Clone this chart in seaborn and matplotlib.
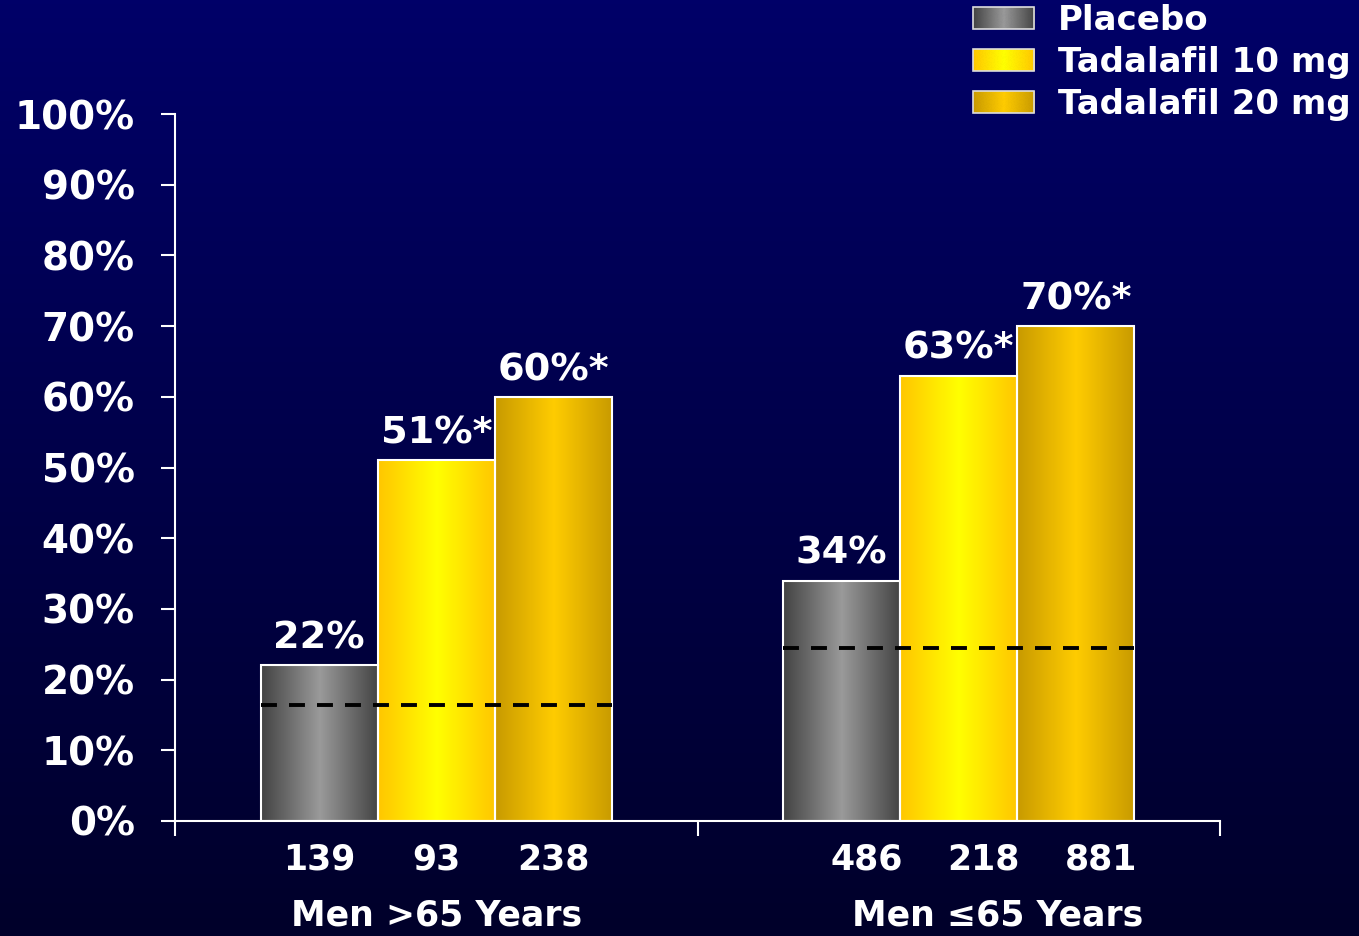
import numpy as np
import pandas as pd
import matplotlib
matplotlib.use("Agg")
import matplotlib.pyplot as plt
import seaborn as sns
from matplotlib.colors import LinearSegmentedColormap
from matplotlib.legend_handler import HandlerBase
from matplotlib.image import BboxImage
from matplotlib.transforms import Bbox, TransformedBbox
from matplotlib.patches import Rectangle

# ---------------- data ----------------
groups = ["Men >65 Years", "Men \u226465 Years"]
treatments = ["Placebo", "Tadalafil 10 mg", "Tadalafil 20 mg"]
values_gt65 = [22, 51, 60]
values_le65 = [34, 63, 70]
n_gt65 = [139, 93, 238]
n_le65 = [486, 218, 881]
significant = [False, True, True]
reference_levels = [16.4, 24.5]
yticks = list(range(0, 101, 10))

# ---------------- style ----------------
sns.set_theme(style="white")
plt.rcParams["font.family"] = ["DejaVu Sans"]
plt.rcParams["font.weight"] = "bold"

grad_stops = [
    ["#434343", "#9a9a9a", "#434343"],
    ["#ffc600", "#ffff00", "#ffc600"],
    ["#c89a00", "#ffcc00", "#c89a00"],
]
cmaps = [LinearSegmentedColormap.from_list(f"g{i}", s) for i, s in enumerate(grad_stops)]
mid_colors = [s[1] for s in grad_stops]

fig = plt.figure(figsize=(13.59, 9.36), dpi=100)

# background gradient
bg = fig.add_axes([0, 0, 1, 1], zorder=-10)
bg.imshow(np.linspace(0, 1, 256)[:, None], aspect="auto", extent=[0, 1, 0, 1],
          cmap=LinearSegmentedColormap.from_list("bg", ["#000068", "#00002a"]))
bg.axis("off")

W, H = 1359, 936
ax = fig.add_axes([175 / W, 1 - 821 / H, (1220 - 175) / W, (821 - 114) / H])
ax.patch.set_alpha(0)

df = pd.DataFrame({
    "group": np.repeat(groups, len(treatments)),
    "treatment": treatments * len(groups),
    "value": values_gt65 + values_le65,
})

sns.barplot(data=df, x="group", y="value", hue="treatment", order=groups,
            hue_order=treatments, palette=mid_colors, saturation=1, width=0.672,
            edgecolor="white", linewidth=1.5, ax=ax, legend=False)
ax.set_xlim(-0.5, 1.5)
ax.set_ylim(0, 100)

grad_row = np.linspace(0, 1, 256)[None, :]
for ci, cont in enumerate(ax.containers):
    for bar in cont:
        x, w, h = bar.get_x(), bar.get_width(), bar.get_height()
        im = ax.imshow(grad_row, cmap=cmaps[ci], extent=[x, x + w, 0, h],
                       aspect="auto", zorder=1.5, interpolation="bicubic")
        im.set_clip_path(bar)
        bar.set_facecolor("none")
        bar.set_zorder(2)
ax.set_xlim(-0.5, 1.5)
ax.set_ylim(0, 100)
ax.set_aspect("auto")

# value labels
all_vals = [values_gt65, values_le65]
for ci, cont in enumerate(ax.containers):
    for gi, bar in enumerate(cont):
        v = all_vals[gi][ci]
        txt = f"{v}%" + ("*" if significant[ci] else "")
        ax.annotate(txt, (bar.get_x() + bar.get_width() / 2, bar.get_height()),
                    xytext=(0, 12), textcoords="offset points", ha="center",
                    va="baseline", color="white", fontsize=27.5, fontweight="bold")

# n labels
all_n = [n_gt65, n_le65]
n_shift = [0, 18]
for ci, cont in enumerate(ax.containers):
    for gi, bar in enumerate(cont):
        ax.annotate(str(all_n[gi][ci]), (bar.get_x() + bar.get_width() / 2, 0),
                    xycoords=("data", "axes fraction"),
                    xytext=(n_shift[gi], -35), textcoords="offset points",
                    ha="center", va="baseline", color="white", fontsize=25,
                    fontweight="bold", annotation_clip=False)

# group labels
g_shift = [0, 28]
for gi, g in enumerate(groups):
    ax.annotate(g, (gi, 0), xycoords=("data", "axes fraction"),
                xytext=(g_shift[gi], -75), textcoords="offset points",
                ha="center", va="baseline", color="white", fontsize=25,
                fontweight="bold", annotation_clip=False)

# dashed reference lines
for gi, lvl in enumerate(reference_levels):
    bars = [cont[gi] for cont in ax.containers]
    x0 = bars[0].get_x()
    x1 = bars[-1].get_x() + bars[-1].get_width()
    ax.hlines(lvl, x0, x1, colors="black", linewidth=2.8,
              linestyles=(0, (4.1, 3.1)), zorder=4)

# axes styling
sns.despine(ax=ax)
for sp in ["left", "bottom"]:
    ax.spines[sp].set_color("white")
    ax.spines[sp].set_linewidth(1.5)
ax.set_yticks(yticks)
ax.set_yticklabels([f"{t}%" for t in yticks])
ax.set_xticks([-0.5, 0.5, 1.5])
ax.set_xticklabels([])
ax.tick_params(axis="y", left=True, colors="white", labelsize=28, length=10,
               width=1.5, pad=19, direction="out")
ax.tick_params(axis="x", bottom=True, colors="white", length=11, width=1.5,
               direction="out")
for lab in ax.get_yticklabels():
    lab.set_fontweight("bold")
ax.set_xlabel("")
ax.set_ylabel("")


# legend with gradient swatches
class GradientHandler(HandlerBase):
    def __init__(self, cmap):
        super().__init__()
        self.cmap = cmap

    def create_artists(self, legend, orig_handle, xdescent, ydescent, width,
                       height, fontsize, trans):
        bb = Bbox.from_bounds(-xdescent, -ydescent, width, height)
        img = BboxImage(TransformedBbox(bb, trans), cmap=self.cmap,
                        interpolation="bicubic")
        img.set_data(np.linspace(0, 1, 256)[None, :])
        rect = Rectangle((-xdescent, -ydescent), width, height,
                         facecolor="none", edgecolor="#dddddd", linewidth=1.2,
                         transform=trans)
        return [img, rect]


proxies = [Rectangle((0, 0), 1, 1) for _ in treatments]
hmap = {p: GradientHandler(cm) for p, cm in zip(proxies, cmaps)}
fig.legend(handles=proxies, labels=treatments, handler_map=hmap,
           loc="upper left", bbox_to_anchor=(973 / W, 1 - 4 / H),
           frameon=False, prop={"size": 24.5, "weight": "bold"},
           labelcolor="white", handlelength=1.8, handleheight=0.6,
           handletextpad=0.7, labelspacing=0.26, borderpad=0,
           borderaxespad=0)

fig.savefig("out.png", dpi=100)
